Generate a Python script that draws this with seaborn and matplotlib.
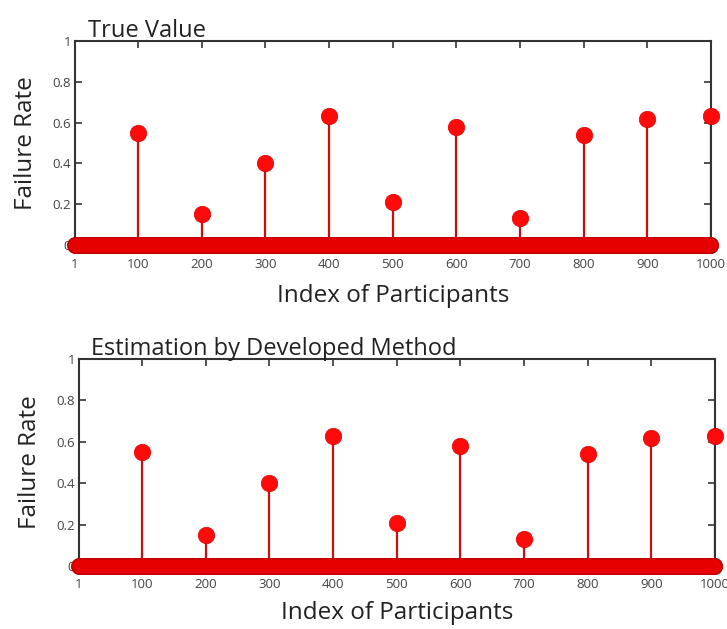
import numpy as np
import pandas as pd
import matplotlib
matplotlib.use("Agg")
import matplotlib.pyplot as plt
import seaborn as sns

# ---- data ----
n_participants = 1000
failure_idx = [100, 200, 300, 400, 500, 600, 700, 800, 900, 1000]
true_rates = [0.55, 0.15, 0.40, 0.63, 0.21, 0.58, 0.13, 0.54, 0.62, 0.63]
est_rates = [0.55, 0.15, 0.40, 0.63, 0.21, 0.58, 0.13, 0.54, 0.62, 0.63]
x_ticks = [1, 100, 200, 300, 400, 500, 600, 700, 800, 900, 1000]
y_ticks = [0, 0.2, 0.4, 0.6, 0.8, 1]
y_ticklabels = ["0", "0.2", "0.4", "0.6", "0.8", "1"]
titles = ["True Value", "Estimation by Developed Method"]


def build_frame(rates):
    idx = np.arange(1, n_participants + 1)
    vals = np.zeros(n_participants)
    for i, r in zip(failure_idx, rates):
        vals[i - 1] = r
    return pd.DataFrame({"idx": idx, "rate": vals})


sns.set_theme(style="white")
plt.rcParams["font.family"] = ["Open Sans", "DejaVu Sans"]

fig = plt.figure(figsize=(7.27, 6.29), dpi=100)
positions = [
    [75 / 727, 1 - 245 / 629, 636 / 727, 204 / 629],
    [79 / 727, 1 - 566 / 629, 636 / 727, 207 / 629],
]
title_x = [88, 91]
xlabel_pad = [10, 7]

for k, (pos, rates, title) in enumerate(zip(positions, [true_rates, est_rates], titles)):
    ax = fig.add_axes(pos)
    df = build_frame(rates)
    # stems
    ax.vlines(df["idx"], 0, df["rate"], color="#c81010", linewidth=1.6, zorder=2)
    # zero band: outline pass then fill pass
    zero = df[df["rate"] == 0]
    sns.scatterplot(data=zero, x="idx", y="rate", ax=ax, s=150, color="#c00000",
                    linewidth=0, zorder=3, clip_on=False, legend=False)
    sns.scatterplot(data=zero, x="idx", y="rate", ax=ax, s=95, color="#e60000",
                    linewidth=0, zorder=3.5, clip_on=False, legend=False)
    heads = df[df["rate"] > 0]
    sns.scatterplot(data=heads, x="idx", y="rate", ax=ax, s=140, color="#ff0a0a",
                    edgecolor="#e00000", linewidth=0.5, zorder=4, clip_on=False, legend=False)

    ax.set_xlim(1, 1000)
    ax.set_ylim(0, 1)
    ax.set_xticks(x_ticks)
    ax.set_xticklabels([str(t) for t in x_ticks])
    ax.set_yticks(y_ticks)
    ax.set_yticklabels(y_ticklabels)
    ax.tick_params(axis="both", which="both", direction="in", length=5, width=1.2,
                   color="#333333", labelsize=9.5, labelcolor="#444444",
                   top=True, right=True, bottom=False, left=True, pad=3)
    ax.tick_params(axis="x", pad=9)
    for side in ["left", "top", "right"]:
        ax.spines[side].set_color("#333333")
        ax.spines[side].set_linewidth(1.5)
    ax.spines["bottom"].set_visible(False)
    ax.set_xlabel("Index of Participants", fontsize=17.5, color="#222222",
                  labelpad=xlabel_pad[k])
    ax.set_ylabel("Failure Rate", fontsize=17.5, color="#222222", labelpad=10)
    ax.set_title(title, fontsize=17, color="#222222", loc="left", pad=3,
                 x=(title_x[k] / 727 - pos[0]) / pos[2])

fig.savefig("out.png", dpi=100)
